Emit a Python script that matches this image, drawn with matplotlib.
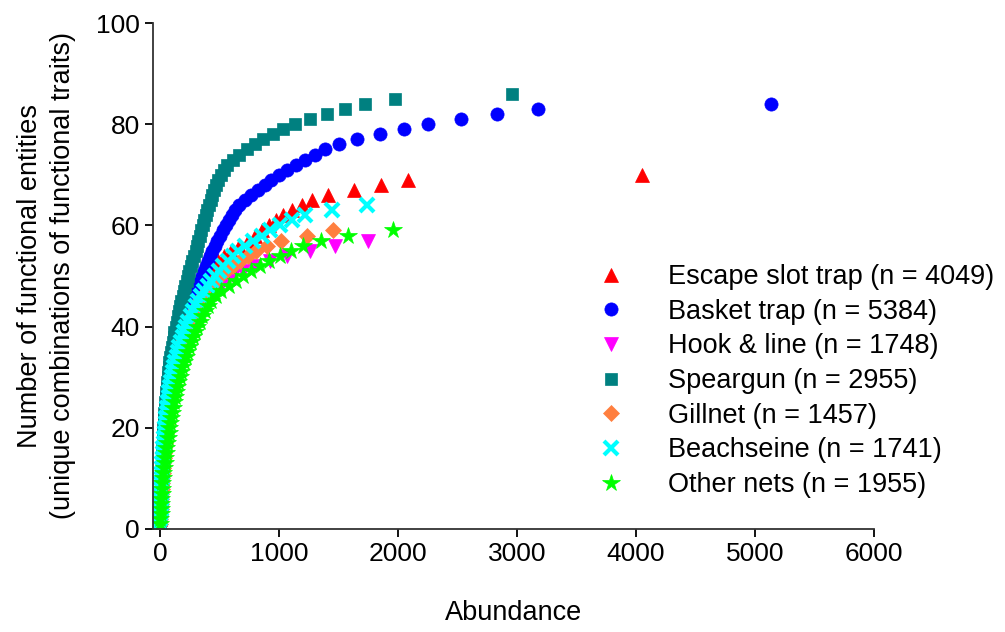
import matplotlib
matplotlib.use("Agg")
import matplotlib.pyplot as plt

plt.rcParams['font.family'] = ['Liberation Sans', 'DejaVu Sans']

# abundance at which each number of functional entities (1, 2, 3, ...) is reached
escape_x = [1, 2, 3, 4, 5, 6, 8, 9, 11, 12,
            14, 16, 19, 21, 24, 27, 30, 33, 36, 40,
            44, 48, 52, 57, 62, 67, 73, 79, 86, 93,
            101, 110, 119, 128, 138, 149, 160, 172, 185, 199,
            213, 228, 244, 262, 281, 301, 322, 345, 370, 396,
            424, 455, 490, 540, 600, 665, 735, 800, 857, 916,
            975, 1034, 1109, 1193, 1277, 1412, 1630, 1857, 2084, 4049]
basket_x = [1, 2, 3, 4, 5, 6, 8, 9, 11, 12,
            14, 16, 18, 21, 24, 27, 30, 34, 38, 42,
            46, 50, 55, 60, 65, 71, 77, 84, 92, 100,
            109, 118, 128, 139, 150, 160, 170, 181, 192, 204,
            216, 229, 242, 256, 270, 285, 300, 316, 332, 349,
            366, 384, 402, 421, 440, 460, 481, 503, 526, 550,
            575, 601, 628, 664, 714, 765, 824, 882, 933, 1000,
            1067, 1143, 1218, 1303, 1387, 1504, 1655, 1850, 2050, 2250,
            2529, 2832, 3176, 5135]
hook_x = [1, 2, 3, 5, 7, 9, 11, 13, 16, 20,
          23, 26, 30, 33, 37, 40, 44, 47, 51, 55,
          60, 65, 70, 77, 85, 92, 100, 108, 116, 125,
          135, 145, 155, 167, 180, 195, 211, 228, 248, 270,
          292, 315, 340, 368, 398, 430, 465, 510, 560, 615,
          700, 790, 920, 1067, 1260, 1470, 1748]
spear_x = [1, 2, 3, 4, 5, 6, 7, 8, 9, 10,
           12, 13, 15, 16, 18, 20, 22, 24, 26, 28,
           31, 33, 36, 39, 42, 46, 50, 54, 59, 64,
           68, 73, 79, 85, 92, 99, 106, 113, 121, 130,
           139, 148, 157, 167, 178, 189, 200, 211, 223, 235,
           247, 259, 272, 285, 298, 310, 322, 335, 347, 360,
           372, 384, 397, 410, 424, 439, 455, 472, 490, 510,
           535, 565, 610, 665, 731, 798, 866, 950, 1034, 1134,
           1261, 1403, 1555, 1723, 1975, 2955]
gill_x = [1, 2, 3, 5, 6, 8, 10, 12, 15, 18,
          21, 24, 27, 30, 33, 36, 39, 43, 46, 50,
          54, 59, 64, 69, 75, 81, 88, 95, 102, 110,
          118, 127, 137, 148, 160, 172, 185, 199, 214, 230,
          248, 267, 287, 308, 330, 360, 392, 428, 465, 505,
          555, 610, 670, 735, 810, 900, 1020, 1235, 1457]
beach_x = [1, 2, 3, 4, 5, 6, 8, 9, 11, 13,
           15, 17, 20, 22, 25, 28, 31, 34, 38, 42,
           46, 50, 55, 60, 66, 72, 79, 86, 94, 102,
           111, 120, 129, 139, 150, 162, 176, 190, 205, 220,
           238, 257, 277, 298, 320, 345, 372, 400, 430, 462,
           496, 532, 570, 612, 655, 710, 780, 857, 924, 1008,
           1109, 1218, 1445, 1741]
other_x = [1, 3, 5, 7, 9, 11, 14, 17, 20, 24,
           28, 32, 37, 42, 47, 53, 59, 65, 71, 78,
           85, 92, 99, 107, 115, 124, 133, 143, 153, 164,
           176, 188, 201, 214, 228, 243, 259, 276, 294, 313,
           333, 355, 378, 403, 430, 470, 515, 575, 639, 697,
           765, 840, 916, 1005, 1101, 1202, 1353, 1578, 1955]

labels = ["Escape slot trap (n = 4049)", "Basket trap (n = 5384)",
          "Hook & line (n = 1748)", "Speargun (n = 2955)",
          "Gillnet (n = 1457)", "Beachseine (n = 1741)",
          "Other nets (n = 1955)"]
series = [escape_x, basket_x, hook_x, spear_x, gill_x, beach_x, other_x]

styles = [
    dict(marker='^', color='#FF0000', ms=10.5),
    dict(marker='o', color='#0000FF', ms=9.5),
    dict(marker='v', color='#FF00FF', ms=10.5),
    dict(marker='s', color='#008080', ms=8.5),
    dict(marker='D', color='#FF7F3F', ms=8.5),
    dict(marker='x', color='#00FFFF', ms=9.5, mew=3),
    dict(marker='*', color='#00FF00', ms=13),
]

fig = plt.figure(figsize=(10.05, 6.32), dpi=100)
ax = fig.add_axes([0.1522, 0.163, 0.7174, 0.8006])

for xs, lab, st in zip(series, labels, styles):
    ys = list(range(1, len(xs) + 1))
    ax.plot(xs, ys, linestyle='none', label=lab, markeredgewidth=st.pop('mew', 0.5), **st)

ax.set_xlim(-60, 6000)
ax.set_ylim(0, 100)
ax.set_xticks([0, 1000, 2000, 3000, 4000, 5000, 6000])
ax.set_yticks([0, 20, 40, 60, 80, 100])
ax.tick_params(labelsize=19, length=6, width=1.3, direction='out')
for s in ['top', 'right']:
    ax.spines[s].set_visible(False)
for s in ['left', 'bottom']:
    ax.spines[s].set_linewidth(1.3)
    ax.spines[s].set_color('#333333')

ax.set_xlabel("Abundance", fontsize=19.5, labelpad=24)
ax.set_ylabel("Number of functional entities\n(unique combinations of functional traits)",
              fontsize=19.5, labelpad=14, linespacing=1.35)

ax.legend(loc='center left', bbox_to_anchor=(584 / 1005, 1 - 381 / 632),
          bbox_transform=fig.transFigure, frameon=False, fontsize=19.5,
          numpoints=1, borderpad=0, borderaxespad=0, handlelength=2,
          handletextpad=1.1, labelspacing=0.32)

fig.savefig("out.png", dpi=100)
